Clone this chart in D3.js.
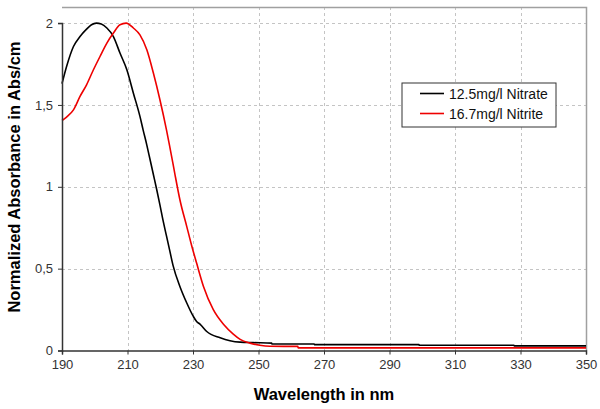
<!DOCTYPE html>
<html><head><meta charset="utf-8">
<script src="https://cdn.jsdelivr.net/npm/d3@7"></script>
<style>body{margin:0;background:#fff}svg{display:block}text{font-family:Arial,"Liberation Sans",sans-serif}</style>
</head><body>
<script>
const seriesNames = ["12.5mg/l Nitrate", "16.7mg/l Nitrite"];
const nitrateNm = [190,191.4,193.5,195.5,197.5,199,200.5,202,203.7,205.7,207.7,209.8,211.8,213.8,214.8,215.9,216.9,217.9,218.9,219.9,220.9,221.9,222.9,223.9,226,228.1,230.1,231.1,232.2,234.2,238.3,241.3,244.4,248.4,254,254.1,267,267.1,299,299.1,328,328.1,350];
const nitrateVal = [1.63,1.735,1.857,1.918,1.963,1.99,2.0,1.995,1.97,1.918,1.817,1.715,1.572,1.43,1.345,1.255,1.165,1.075,0.985,0.89,0.79,0.7,0.61,0.52,0.391,0.29,0.208,0.177,0.16,0.116,0.078,0.06,0.051,0.048,0.045,0.04,0.04,0.036,0.036,0.032,0.032,0.028,0.028];
const nitriteNm = [190,191.4,193.5,195.5,197.5,199.6,201.6,203.7,205.7,207.7,209.6,211.8,213.8,215.9,217.9,219.9,221.9,223,223.9,224.5,226,228.1,229.6,231.1,233.2,236.2,239.3,242.3,244.4,247.4,250.4,253.5,262,262.1,350];
const nitriteVal = [1.405,1.426,1.47,1.552,1.623,1.715,1.796,1.878,1.939,1.99,2.0,1.97,1.928,1.837,1.695,1.532,1.348,1.235,1.14,1.075,0.921,0.757,0.64,0.534,0.391,0.249,0.16,0.1,0.068,0.045,0.032,0.026,0.025,0.016,0.016];
const xTicks = [190,210,230,250,270,290,310,330,350];
const yTicks = [0,0.5,1,1.5,2];
const colors = ["#000000","#ee0000"];

const W=600,H=409;
const m={l:62,r:586,t:7,b:350.5};
const svg=d3.select("body").append("svg").attr("width",W).attr("height",H);
const x=d3.scaleLinear().domain([190,350]).range([m.l,m.r]);
const y=d3.scaleLinear().domain([0,2]).range([m.b,m.b-327.4]);

// grid
const g=svg.append("g");
g.selectAll(".vg").data(xTicks.filter(d=>d>190&&d<350)).enter().append("line")
 .attr("x1",d=>Math.round(x(d))+0.5).attr("x2",d=>Math.round(x(d))+0.5).attr("y1",m.t).attr("y2",m.b)
 .attr("stroke","#c4c4c4").attr("stroke-dasharray","3,3");
g.selectAll(".hg").data(yTicks.filter(d=>d>0)).enter().append("line")
 .attr("y1",d=>Math.round(y(d))+0.5).attr("y2",d=>Math.round(y(d))+0.5).attr("x1",m.l).attr("x2",m.r)
 .attr("stroke","#c4c4c4").attr("stroke-dasharray","3,3");
// top & right border
svg.append("path").attr("d",`M${m.l},${m.t+0.5}H${m.r+0.5}V${m.b}`).attr("fill","none").attr("stroke","#a0a0a0").attr("stroke-width",1.5);

// lines
const line=d3.line().x(d=>x(d[0])).y(d=>y(d[1])).curve(d3.curveMonotoneX);
const data=[d3.zip(nitrateNm,nitrateVal),d3.zip(nitriteNm,nitriteVal)];
data.forEach((d,i)=>svg.append("path").datum(d).attr("d",line).attr("fill","none").attr("stroke",colors[i]).attr("stroke-width",1.6).attr("stroke-linejoin","round"));

// axes
const xa=svg.append("g").attr("transform",`translate(0,${m.b})`)
 .call(d3.axisBottom(x).tickValues(xTicks).tickSize(4).tickPadding(5).tickFormat(d3.format("d")));
const ya=svg.append("g").attr("transform",`translate(${m.l},0)`)
 .call(d3.axisLeft(y).tickValues(yTicks).tickSize(4).tickPadding(5).tickFormat(d=>String(d).replace(".",",")));
[xa,ya].forEach(a=>{a.select(".domain").attr("stroke","#333").attr("stroke-width",1.5);
 a.selectAll(".tick line").attr("stroke","#333");
 a.selectAll("text").attr("font-size",13).attr("fill","#333").attr("font-family","Arial,'Liberation Sans',sans-serif");});

// titles
svg.append("text").attr("x",(m.l+m.r)/2).attr("y",400).attr("text-anchor","middle")
 .attr("font-size",16.5).attr("font-weight","bold").text("Wavelength in nm");
svg.append("text").attr("transform",`translate(20,177) rotate(-90)`).attr("text-anchor","middle")
 .attr("font-size",16.5).attr("font-weight","bold").text("Normalized Absorbance in Abs/cm");

// legend
const lg=svg.append("g");
lg.append("rect").attr("x",402).attr("y",83).attr("width",154).attr("height",44).attr("fill","#fff").attr("stroke","#333");
seriesNames.forEach((n,i)=>{
 const yy=93.5+i*20;
 lg.append("line").attr("x1",420).attr("x2",444).attr("y1",yy).attr("y2",yy).attr("stroke",colors[i]).attr("stroke-width",1.6);
 lg.append("text").attr("x",449).attr("y",yy+5).attr("font-size",14).attr("fill","#111").text(n);
});
</script>
</body></html>
